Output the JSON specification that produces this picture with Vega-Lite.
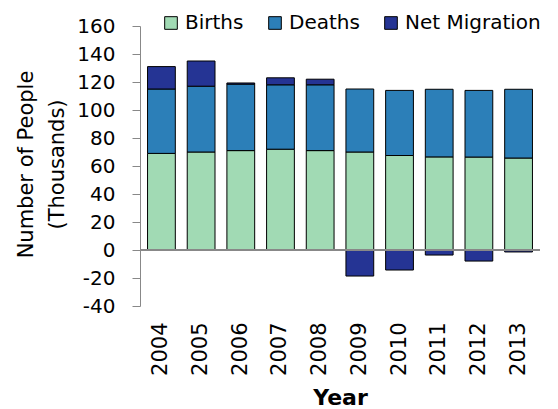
{
  "$schema": "https://vega.github.io/schema/vega-lite/v6.json",
  "width": 400,
  "height": 280,
  "autosize": "none",
  "padding": {"left": 140, "top": 26, "right": 18, "bottom": 103},
  "background": "white",
  "config": {
    "font": "DejaVu Sans",
    "view": {"stroke": null},
    "axisY": {
      "labelOverlap": false,
      "labelBound": false,
      "titleFontSize": 21,
      "titleFontWeight": "normal",
      "titleColor": "black",
      "titleLineHeight": 31,
      "titleX": -114,
      "titleY": 138,
      "titleBaseline": "middle",
      "labelFontSize": 20,
      "labelColor": "black",
      "labelPadding": 17,
      "tickSize": 8,
      "tickColor": "#888888",
      "domainColor": "#888888",
      "grid": false
    }
  },
  "data": {
    "values": [
      {"year": "2004", "category": "Births", "value": 69, "ord": 1},
      {"year": "2004", "category": "Deaths", "value": 46, "ord": 2},
      {"year": "2004", "category": "Net Migration", "value": 16, "ord": 3},
      {"year": "2005", "category": "Births", "value": 70, "ord": 1},
      {"year": "2005", "category": "Deaths", "value": 47, "ord": 2},
      {"year": "2005", "category": "Net Migration", "value": 18, "ord": 3},
      {"year": "2006", "category": "Births", "value": 71, "ord": 1},
      {"year": "2006", "category": "Deaths", "value": 47.5, "ord": 2},
      {"year": "2006", "category": "Net Migration", "value": 0.8, "ord": 3},
      {"year": "2007", "category": "Births", "value": 72, "ord": 1},
      {"year": "2007", "category": "Deaths", "value": 46, "ord": 2},
      {"year": "2007", "category": "Net Migration", "value": 5, "ord": 3},
      {"year": "2008", "category": "Births", "value": 71, "ord": 1},
      {"year": "2008", "category": "Deaths", "value": 47, "ord": 2},
      {"year": "2008", "category": "Net Migration", "value": 4, "ord": 3},
      {"year": "2009", "category": "Births", "value": 70, "ord": 1},
      {"year": "2009", "category": "Deaths", "value": 45, "ord": 2},
      {"year": "2009", "category": "Net Migration", "value": -18.6, "ord": 3},
      {"year": "2010", "category": "Births", "value": 67.5, "ord": 1},
      {"year": "2010", "category": "Deaths", "value": 46.5, "ord": 2},
      {"year": "2010", "category": "Net Migration", "value": -14.3, "ord": 3},
      {"year": "2011", "category": "Births", "value": 66.5, "ord": 1},
      {"year": "2011", "category": "Deaths", "value": 48.3, "ord": 2},
      {"year": "2011", "category": "Net Migration", "value": -3.6, "ord": 3},
      {"year": "2012", "category": "Births", "value": 66.4, "ord": 1},
      {"year": "2012", "category": "Deaths", "value": 47.6, "ord": 2},
      {"year": "2012", "category": "Net Migration", "value": -7.9, "ord": 3},
      {"year": "2013", "category": "Births", "value": 65.7, "ord": 1},
      {"year": "2013", "category": "Deaths", "value": 49.1, "ord": 2},
      {"year": "2013", "category": "Net Migration", "value": -1.4, "ord": 3}
    ]
  },
  "layer": [
    {
      "mark": {"type": "bar", "stroke": "black", "strokeWidth": 1},
      "encoding": {
        "x": {
          "field": "year",
          "type": "ordinal",
          "scale": {"paddingInner": 0.3, "paddingOuter": 0.19},
          "axis": {
            "title": "Year",
            "titleFontSize": 22,
            "titleFontWeight": "bold",
            "titleColor": "black",
            "titlePadding": 12,
            "labelAngle": -90,
            "labelFontSize": 21,
            "labelColor": "black",
            "labelPadding": 16,
            "domain": false,
            "ticks": false
          }
        },
        "y": {
          "field": "value",
          "type": "quantitative",
          "stack": "zero",
          "scale": {"domain": [-40, 160], "nice": false},
          "axis": {
            "values": [-40, -20, 0, 20, 40, 60, 80, 100, 120, 140, 160],
            "labelExpr": "datum.value + ''",
            "title": ["Number of People", "(Thousands)"]
          }
        },
        "color": {
          "field": "category",
          "type": "nominal",
          "scale": {
            "domain": ["Births", "Deaths", "Net Migration"],
            "range": ["#a1dab4", "#2c7fb8", "#253494"]
          },
          "legend": {
            "title": null,
            "orient": "none",
            "direction": "horizontal",
            "legendX": 21,
            "legendY": -13,
            "padding": 0,
            "symbolType": "square",
            "symbolSize": 160,
            "symbolStrokeColor": "black",
            "symbolStrokeWidth": 1,
            "labelFontSize": 20,
            "labelColor": "black",
            "labelOffset": 4,
            "columnPadding": 21
          }
        },
        "order": {"field": "ord", "type": "quantitative"}
      }
    },
    {
      "mark": {"type": "rule", "color": "#888888", "strokeWidth": 1.5},
      "encoding": {
        "y": {
          "datum": 0,
          "type": "quantitative",
          "axis": {
            "values": [-40, -20, 0, 20, 40, 60, 80, 100, 120, 140, 160],
            "labelExpr": "datum.value + ''",
            "title": ["Number of People", "(Thousands)"]
          }
        }
      }
    }
  ]
}
